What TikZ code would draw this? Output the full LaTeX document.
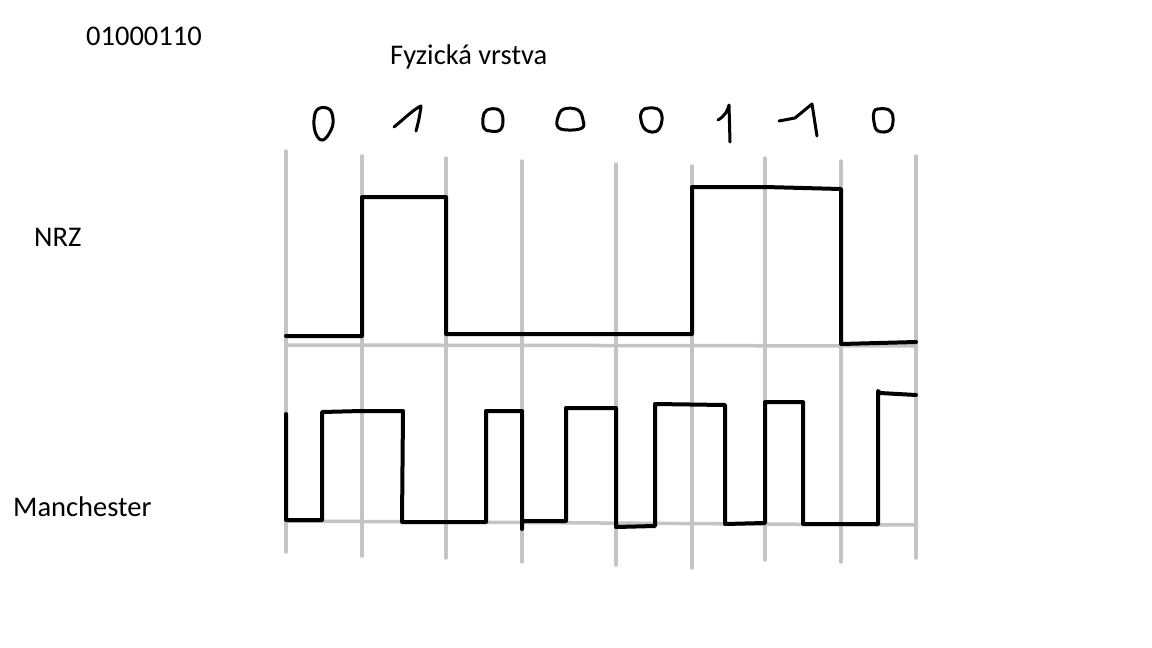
\documentclass[tikz,border=0pt]{standalone}
\usepackage{fontspec}
\setmainfont{Carlito}
\begin{document}
\begin{tikzpicture}[x=1pt,y=-1pt,
  grid/.style={draw={rgb,255:red,196;green,196;blue,196},line width=3.5pt,line cap=round},
  wave/.style={draw=black,line width=4pt,line join=round,line cap=round},
  hand/.style={draw=black,line width=3pt,line join=round,line cap=round},
  lbl/.style={anchor=base west,inner sep=0pt,font=\fontsize{28.5}{34}\selectfont}]
\useasboundingbox (0,0) rectangle (1152,648);
\fill[white] (0,0) rectangle (1152,648);
% texts
\node[lbl] (bits) at (86,45) {01000110};
\node[lbl] (title) at (390,64) {Fyzická vrstva};
\node[lbl] (nrz) at (34,246) {NRZ};
\node[lbl] (man) at (13,516) {Manchester};
% grid
\draw[grid] (286,151) -- (286,552);
\draw[grid] (362,156) -- (362,556);
\draw[grid] (446,158) -- (446,558);
\draw[grid] (522,161) -- (522,562);
\draw[grid] (616,164) -- (616,565);
\draw[grid] (692,166) -- (692,568);
\draw[grid] (765,158) -- (765,560);
\draw[grid] (841,161) -- (841,562);
\draw[grid] (916,156) -- (916,558);
\draw[grid] (286,345) -- (916,346);
\draw[grid] (286,521) -- (916,525);
% handwritten digits
\draw[hand] plot[smooth cycle,tension=0.7] coordinates {(318,109) (329,109) (333,119) (331,130) (323,140) (316,134) (314,120)};
\draw[hand] (394,127) .. controls (405,118) and (414,109) .. (421,106) .. controls (420,115) and (418,124) .. (416,131);
\draw[hand] plot[smooth cycle,tension=0.7] coordinates {(487,110) (499,110) (503,120) (500,130) (490,131) (484,128) (483,118)};
\draw[hand] plot[smooth cycle,tension=0.7] coordinates {(564,109) (578,110) (583,120) (582,128) (568,130) (558,127) (558,117)};
\draw[hand] plot[smooth cycle,tension=0.7] coordinates {(649,108) (659,110) (662,120) (657,131) (646,130) (641,120) (642,111)};
\draw[hand] (718,120) .. controls (725,116) and (728,110) .. (729,105) -- (730,142);
\draw[hand] (779,121) -- (795,118) -- (812,104) -- (817,136);
\draw[hand] plot[smooth cycle,tension=0.7] coordinates {(878,109) (889,110) (893,118) (890,130) (878,131) (874,122) (874,112)};
% NRZ
\draw[wave] (286,336) -- (362,336) -- (362,197) -- (446,197) -- (446,334) -- (692,334)
  -- (692,187) -- (765,187) -- (841,189) -- (841,344) -- (916,342);
% Manchester
\draw[wave] (286,414) -- (286,520) -- (322,520) -- (322,412) -- (362,411) -- (403,411)
  -- (402,522) -- (486,522) -- (486,411) -- (522,411) -- (522,529) -- (522,521) -- (566,521)
  -- (566,408) -- (616,408) -- (616,527) -- (655,526) -- (655,404) -- (725,405)
  -- (725,524) -- (765,523) -- (765,402) -- (803,402) -- (803,524) -- (878,524)
  -- (878,391) -- (880,393) -- (916,395);
\end{tikzpicture}
\end{document}
